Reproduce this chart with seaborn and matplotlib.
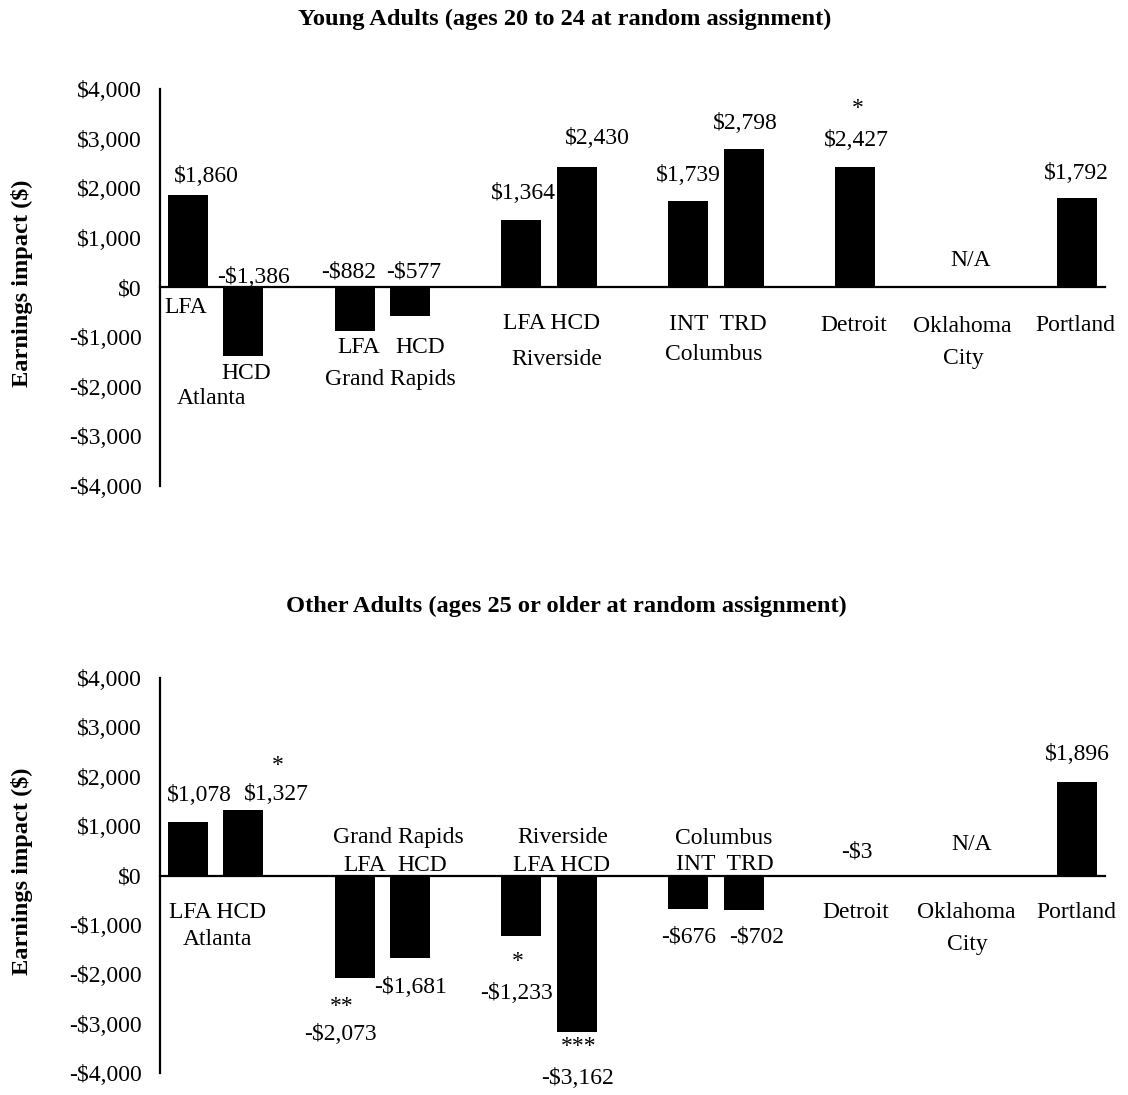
import numpy as np
import pandas as pd
import seaborn as sns
import matplotlib
matplotlib.use("Agg")
import matplotlib.pyplot as plt

# ---- data -------------------------------------------------------------
sites = ["Atlanta", "Atlanta", "Grand Rapids", "Grand Rapids", "Riverside",
         "Riverside", "Columbus", "Columbus", "Detroit", "Oklahoma City", "Portland"]
programs = ["LFA", "HCD", "LFA", "HCD", "LFA", "HCD", "INT", "TRD", "", "", ""]
young_impact = [1860, -1386, -882, -577, 1364, 2430, 1739, 2798, 2427, np.nan, 1792]
older_impact = [1078, 1327, -2073, -1681, -1233, -3162, -676, -702, -3, np.nan, 1896]
young_sig = ["", "", "", "", "", "", "", "", "*", "", ""]
older_sig = ["", "*", "**", "", "*", "***", "", "", "", "", ""]
y_ticks = [-4000, -3000, -2000, -1000, 0, 1000, 2000, 3000, 4000]

# ---- layout -----------------------------------------------------------
# slot of each bar on a 17-slot axis (empty slots separate the sites)
slot_pos = [0, 1, 3, 4, 6, 7, 9, 10, 12, 14, 16]
n_slots = 17

# value-label placement: (anchor, dx px, dy px); anchor "end" = bar end, "zero" = baseline
young_lab = [("end", 19, 19), ("zero", 10, 10), ("zero", -6, 15), ("zero", 4, 15),
             ("end", 2, 26), ("end", 20, 28), ("end", 0, 26), ("end", 2, 25),
             ("end", 2, 26), ("zero", 5, 27), ("end", -1, 25)]
older_lab = [("end", 12, 27), ("end", 33, 15), ("end", -14, -57), ("end", 0, -29),
             ("end", -5, -57), ("end", 1, -47), ("end", 1, -28), ("end", 13, -27),
             ("end", 2, 24), ("zero", 6, 31), ("end", 0, 27)]
young_star = {8: ("end", 3, 58)}
older_star = {1: ("end", 34, 44), 2: ("end", -13, -29), 4: ("end", -4, -25),
              5: ("end", 2, -15)}

# site / program captions in data coordinates (slot, dollars)
young_caps = [("LFA", -0.03, -403), ("HCD", 1.06, -1734), ("Atlanta", 0.42, -2238),
              ("LFA", 3.08, -1210), ("HCD", 4.19, -1210), ("Grand Rapids", 3.65, -1855),
              ("LFA HCD", 6.55, -726), ("Riverside", 6.64, -1452),
              ("INT  TRD", 9.54, -746), ("Columbus", 9.46, -1351),
              ("Detroit", 11.98, -766), ("Oklahoma", 13.94, -786), ("City", 13.96, -1431),
              ("Portland", 15.96, -766)]
older_caps = [("LFA HCD", 0.53, -759), ("Atlanta", 0.53, -1306),
              ("Grand Rapids", 3.78, 779), ("LFA", 3.19, 197), ("HCD", 4.21, 197),
              ("Riverside", 6.75, 779), ("LFA HCD", 6.73, 197),
              ("Columbus", 9.64, 759), ("INT  TRD", 9.66, 213),
              ("Detroit", 12.02, -759), ("Oklahoma", 14.0, -759), ("City", 14.02, -1407),
              ("Portland", 15.99, -759)]

sns.set_theme(style="white")
plt.rcParams["font.family"] = ["Liberation Serif", "DejaVu Serif"]
plt.rcParams.update({"text.color": "black", "axes.labelcolor": "black",
                     "xtick.color": "black", "ytick.color": "black",
                     "axes.edgecolor": "black"})
FS = 17
FS_BOLD = 17.6


def money(v):
    return f"-${abs(v):,.0f}" if v < 0 else f"${v:,.0f}"


def draw_panel(ax, values, sig, lab, stars, caps):
    df = pd.DataFrame({"slot": [str(s) for s in slot_pos], "impact": values})
    df = df.dropna()
    order = [str(i) for i in range(n_slots)]
    sns.barplot(data=df, x="slot", y="impact", order=order, color="black",
                saturation=1, width=0.72, edgecolor="none", ax=ax)
    ax.set_xlim(-0.5, n_slots - 0.5)
    ax.set_ylim(-4000, 4000)
    # spines: y axis on the left, x axis through zero
    for s in ("top", "right"):
        ax.spines[s].set_visible(False)
    ax.spines["bottom"].set_position(("data", 0))
    ax.spines["left"].set_bounds(-4000, 4000)
    for s in ("left", "bottom"):
        ax.spines[s].set_linewidth(1.6)
        ax.spines[s].set_color("black")
    ax.set_xticks(np.arange(-0.5, n_slots, 1.0))
    ax.set_xticklabels([])
    ax.set_yticks(y_ticks)
    ax.set_yticklabels([money(t) for t in y_ticks], fontsize=FS, color="black")
    ax.tick_params(axis="x", direction="out", length=5, width=1.6, color="black")
    ax.tick_params(axis="y", direction="out", length=5, width=1.6, color="black", pad=8)
    ax.set_xlabel("")
    ax.set_ylabel("Earnings impact ($)", fontsize=FS_BOLD, fontweight="bold", color="black")
    ax.yaxis.set_label_coords(-0.134, 0.51)

    for i, v in enumerate(values):
        anchor, dx, dy = lab[i]
        base = 0 if (anchor == "zero" or np.isnan(v)) else v
        txt = "N/A" if np.isnan(v) else money(v)
        ax.annotate(txt, xy=(slot_pos[i], base), xytext=(dx, dy), color="black",
                    textcoords="offset pixels", ha="center", va="center", fontsize=FS)
        if sig[i]:
            anchor, dx, dy = stars[i]
            base = 0 if anchor == "zero" else v
            ax.annotate(sig[i], xy=(slot_pos[i], base), xytext=(dx, dy), color="black",
                        textcoords="offset pixels", ha="center", va="center", fontsize=FS)
    for txt, x, y in caps:
        ax.text(x, y, txt, ha="center", va="center", fontsize=FS, color="black")


fig = plt.figure(figsize=(11.28, 10.95), dpi=100)
ax1 = fig.add_axes([0.1418, 0.5562, 0.8378, 0.3626])
ax2 = fig.add_axes([0.1418, 0.0201, 0.8378, 0.3607])

draw_panel(ax1, young_impact, young_sig, young_lab, young_star, young_caps)
draw_panel(ax2, older_impact, older_sig, older_lab, older_star, older_caps)

fig.text(0.501, 1 - 19 / 1095, "Young Adults (ages 20 to 24 at random assignment)",
         ha="center", va="center", fontsize=FS_BOLD, fontweight="bold", color="black")
fig.text(0.502, 1 - 606 / 1095, "Other Adults (ages 25 or older at random assignment)",
         ha="center", va="center", fontsize=FS_BOLD, fontweight="bold", color="black")

fig.savefig("out.png", dpi=100, facecolor="white")
